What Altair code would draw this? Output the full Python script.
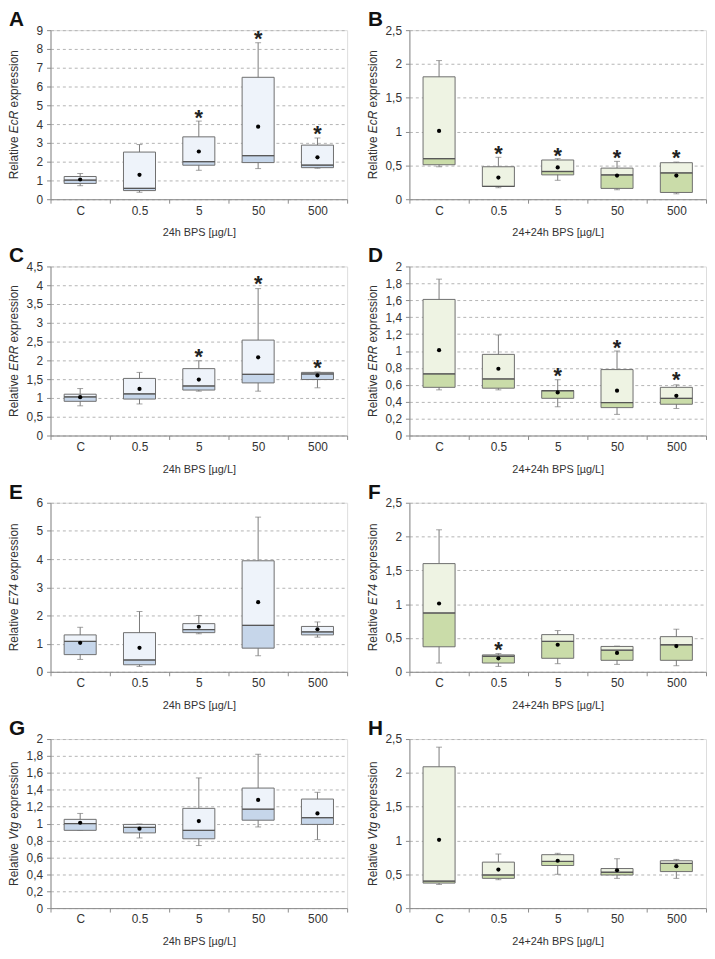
import altair as alt
import pandas as pd

CATS = ["C", "0.5", "5", "50", "500"]

# Panel A - EcR 24h
A_lo = [0.72, 0.37, 1.54, 1.63, 1.65]
A_q1 = [0.84, 0.46, 1.81, 1.95, 1.68]
A_med = [1.02, 0.58, 2.00, 2.32, 1.82]
A_q3 = [1.21, 2.51, 3.32, 6.49, 2.88]
A_hi = [1.37, 2.91, 4.16, 8.33, 3.26]
A_mean = [1.05, 1.30, 2.54, 3.86, 2.23]
A_star = [None, None, 4.58, 8.79, 3.74]

# Panel B - EcR 24+24h
B_lo = [0.48, 0.17, 0.28, 0.14, 0.08]
B_q1 = [0.51, 0.19, 0.36, 0.16, 0.10]
B_med = [0.60, 0.19, 0.41, 0.36, 0.39]
B_q3 = [1.81, 0.48, 0.58, 0.46, 0.54]
B_hi = [2.05, 0.62, 0.60, 0.56, 0.55]
B_mean = [1.01, 0.32, 0.47, 0.35, 0.35]
B_star = [None, 0.74, 0.71, 0.68, 0.68]

# Panel C - ERR 24h
C_lo = [0.79, 0.84, 1.18, 1.18, 1.27]
C_q1 = [0.91, 0.97, 1.21, 1.40, 1.49]
C_med = [1.03, 1.11, 1.32, 1.63, 1.64]
C_q3 = [1.10, 1.52, 1.78, 2.54, 1.68]
C_hi = [1.25, 1.68, 1.99, 3.91, 1.69]
C_mean = [1.02, 1.24, 1.49, 2.08, 1.60]
C_star = [None, None, 2.22, 4.15, 1.92]

# Panel D - ERR 24+24h
D_lo = [0.54, 0.54, 0.34, 0.25, 0.32]
D_q1 = [0.57, 0.56, 0.44, 0.33, 0.37]
D_med = [0.73, 0.67, 0.53, 0.39, 0.44]
D_q3 = [1.61, 0.96, 0.53, 0.78, 0.57]
D_hi = [1.85, 1.19, 0.66, 1.00, 0.60]
D_mean = [1.01, 0.79, 0.51, 0.53, 0.47]
D_star = [None, None, 0.76, 1.09, 0.71]

# Panel E - E74 24h
E_lo = [0.44, 0.19, 1.35, 0.57, 1.23]
E_q1 = [0.61, 0.25, 1.39, 0.84, 1.31]
E_med = [1.08, 0.42, 1.50, 1.65, 1.42]
E_q3 = [1.31, 1.39, 1.71, 3.94, 1.61]
E_hi = [1.58, 2.14, 2.00, 5.49, 1.77]
E_mean = [1.03, 0.85, 1.60, 2.47, 1.51]
E_star = [None, None, None, None, None]

# Panel F - E74 24+24h
F_lo = [0.13, 0.08, 0.12, 0.11, 0.09]
F_q1 = [0.37, 0.13, 0.20, 0.17, 0.17]
F_med = [0.87, 0.23, 0.45, 0.32, 0.40]
F_q3 = [1.60, 0.25, 0.55, 0.375, 0.52]
F_hi = [2.10, 0.27, 0.61, 0.38, 0.63]
F_mean = [1.01, 0.20, 0.40, 0.28, 0.38]
F_star = [None, 0.40, None, None, None]

# Panel G - Vtg 24h
G_lo = [0.92, 0.83, 0.74, 0.96, 0.81]
G_q1 = [0.92, 0.89, 0.82, 1.04, 0.99]
G_med = [1.00, 0.955, 0.92, 1.17, 1.07]
G_q3 = [1.05, 0.99, 1.18, 1.42, 1.29]
G_hi = [1.12, 0.995, 1.54, 1.82, 1.37]
G_mean = [1.01, 0.94, 1.03, 1.28, 1.12]
G_star = [None, None, None, None, None]

# Panel H - Vtg 24+24h
H_lo = [0.35, 0.42, 0.50, 0.44, 0.44]
H_q1 = [0.37, 0.44, 0.63, 0.49, 0.54]
H_med = [0.40, 0.49, 0.69, 0.53, 0.66]
H_q3 = [2.09, 0.68, 0.79, 0.585, 0.70]
H_hi = [2.38, 0.80, 0.81, 0.73, 0.72]
H_mean = [1.01, 0.57, 0.70, 0.56, 0.62]
H_star = [None, None, None, None, None]

X_TITLE_1 = "24h BPS [µg/L]"
X_TITLE_2 = "24+24h BPS [µg/L]"

BLUE_DARK, BLUE_LIGHT = "#c6d6ea", "#eef3fa"
GREEN_DARK, GREEN_LIGHT = "#cadca9", "#eef3e3"

FONT = "Liberation Sans"
W, H = 300, 171
GENE_W = {"EcR": 22.7, "ERR": 25.3, "E74": 21.3, "Vtg": 18.0}
W_REL = 46.7
W_SP = 3.3
W_EXP = 58.1


def panel(letter, gene, lo, q1, med, q3, hi, mean, star, ymax, ystep, xtitle, dark, light):
    df = pd.DataFrame({"cat": CATS, "lo": lo, "q1": q1, "med": med, "q3": q3,
                       "hi": hi, "mean": mean, "star": star})
    n = int(round(ymax / ystep))
    ticks = [round(i * ystep, 2) for i in range(n + 1)]
    xenc = alt.X("cat:N", sort=CATS,
                 scale=alt.Scale(paddingInner=0, paddingOuter=0),
                 axis=alt.Axis(title=xtitle, tickBand="extent", labelAngle=0,
                               domainColor="#8c8c8c", tickColor="#8c8c8c", tickSize=4,
                               labelFontSize=12, labelColor="#333333", labelPadding=2,
                               titleFontSize=11, titleFontWeight="normal", titleColor="#333333",
                               titlePadding=11, grid=False, labelFont=FONT, titleFont=FONT))
    yscale = alt.Scale(domain=[0, ymax], nice=False)
    yaxis = alt.Axis(values=ticks, labelExpr="replace(format(datum.value, '~g'), '.', ',')",
                     title=None,
                     grid=True, gridDash=[3, 3], gridColor="#b4b4b4", gridWidth=1,
                     domainColor="#8c8c8c", tickColor="#8c8c8c", tickSize=4,
                     labelFontSize=12, labelColor="#333333", labelPadding=4, labelFont=FONT)

    def yq(field):
        return alt.Y(f"{field}:Q", scale=yscale, axis=yaxis)

    base = alt.Chart(df)
    whisk = base.mark_rule(color="#7a7a7a", strokeWidth=1).encode(x=xenc, y=yq("lo"), y2="hi:Q")
    cap_hi = base.mark_tick(color="#7a7a7a", size=6, thickness=1).encode(x=xenc, y=yq("hi"))
    cap_lo = base.mark_tick(color="#7a7a7a", size=6, thickness=1).encode(x=xenc, y=yq("lo"))
    box_lo = base.mark_bar(width=alt.RelativeBandSize(0.54), fill=dark, stroke="#6e6e6e",
                           strokeWidth=1).encode(x=xenc, y=yq("q1"), y2="med:Q")
    box_hi = base.mark_bar(width=alt.RelativeBandSize(0.54), fill=light, stroke="#6e6e6e",
                           strokeWidth=1).encode(x=xenc, y=yq("med"), y2="q3:Q")
    med_line = base.mark_tick(color="#4a4a4a", size=W / 5 * 0.54, thickness=1.3).encode(
        x=xenc, y=yq("med"))
    dots = base.mark_circle(color="black", opacity=1, size=18).encode(x=xenc, y=yq("mean"))
    stars = base.transform_filter("isValid(datum.star)").mark_text(
        text="*", fontSize=22, fontWeight="bold", font=FONT, color="#222222",
        baseline="middle", dy=5).encode(x=xenc, y=yq("star"))

    gw = GENE_W[gene]
    total = W_REL + gw + W_SP + W_EXP
    tdf = pd.DataFrame({"a": [0]})
    tx, ty = -37, H / 2
    t1 = alt.Chart(tdf).mark_text(text="Relative", angle=270, align="left", baseline="middle",
                                  fontSize=12, font=FONT, color="#333333",
                                  dx=-total / 2).encode(x=alt.value(tx), y=alt.value(ty))
    t2 = alt.Chart(tdf).mark_text(text=gene, angle=270, align="left", baseline="middle",
                                  fontSize=12, font=FONT, fontStyle="italic", color="#333333",
                                  dx=-total / 2 + W_REL).encode(x=alt.value(tx), y=alt.value(ty))
    t3 = alt.Chart(tdf).mark_text(text="expression", angle=270, align="left", baseline="middle",
                                  fontSize=12, font=FONT, color="#333333",
                                  dx=-total / 2 + W_REL + gw + W_SP).encode(
        x=alt.value(tx), y=alt.value(ty))
    lab = alt.Chart(tdf).mark_text(text=letter, align="left", baseline="middle", fontSize=21,
                                   fontWeight="bold", font=FONT, color="#111111").encode(
        x=alt.value(-42), y=alt.value(-10))

    return alt.layer(whisk, cap_hi, cap_lo, box_lo, box_hi, med_line, dots, stars,
                     t1, t2, t3, lab).properties(width=W, height=H)


pA = panel("A", "EcR", A_lo, A_q1, A_med, A_q3, A_hi, A_mean, A_star, 9, 1, X_TITLE_1, BLUE_DARK, BLUE_LIGHT)
pB = panel("B", "EcR", B_lo, B_q1, B_med, B_q3, B_hi, B_mean, B_star, 2.5, 0.5, X_TITLE_2, GREEN_DARK, GREEN_LIGHT)
pC = panel("C", "ERR", C_lo, C_q1, C_med, C_q3, C_hi, C_mean, C_star, 4.5, 0.5, X_TITLE_1, BLUE_DARK, BLUE_LIGHT)
pD = panel("D", "ERR", D_lo, D_q1, D_med, D_q3, D_hi, D_mean, D_star, 2, 0.2, X_TITLE_2, GREEN_DARK, GREEN_LIGHT)
pE = panel("E", "E74", E_lo, E_q1, E_med, E_q3, E_hi, E_mean, E_star, 6, 1, X_TITLE_1, BLUE_DARK, BLUE_LIGHT)
pF = panel("F", "E74", F_lo, F_q1, F_med, F_q3, F_hi, F_mean, F_star, 2.5, 0.5, X_TITLE_2, GREEN_DARK, GREEN_LIGHT)
pG = panel("G", "Vtg", G_lo, G_q1, G_med, G_q3, G_hi, G_mean, G_star, 2, 0.2, X_TITLE_1, BLUE_DARK, BLUE_LIGHT)
pH = panel("H", "Vtg", H_lo, H_q1, H_med, H_q3, H_hi, H_mean, H_star, 2.5, 0.5, X_TITLE_2, GREEN_DARK, GREEN_LIGHT)

chart = alt.concat(pA, pB, pC, pD, pE, pF, pG, pH, columns=2,
                   spacing={"row": 68, "column": 63}, bounds="flush").properties(
    padding={"left": -1, "top": -5, "right": 0, "bottom": 0}
).configure_view(stroke=None).configure(font=FONT)

chart.save("out.html", embed_options={"renderer": "svg", "actions": False})
